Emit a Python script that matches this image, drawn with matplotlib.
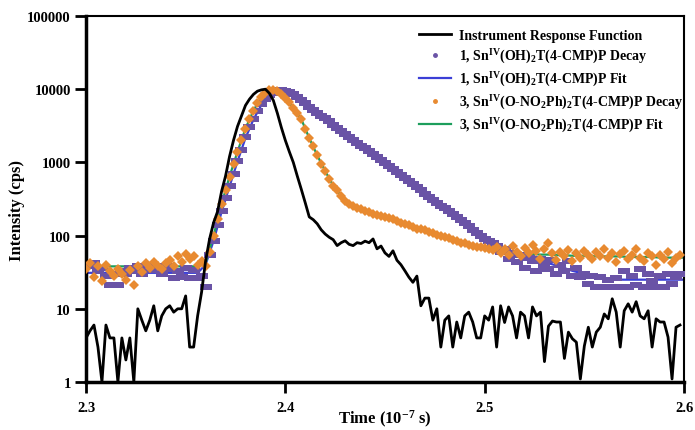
import numpy as np #numeric arrays
import matplotlib
matplotlib.use("Agg")
import matplotlib.pyplot as plt #plots
from matplotlib.lines import Line2D
from matplotlib.ticker import FixedLocator, FixedFormatter, NullLocator

#1) data (time in 1e-7 s, intensity in cps)
t0, dt = 2.300, 0.002 #decay / irf channel grid
t0_fit, dt_fit = 2.300, 0.004 #fit grid

irf = [4, 5, 6, 3, 1, 6, 4, 4, 1, 4, 2, 4, 1, 10, 7, 5, 7, 11, 5, 8,
       10, 11, 9, 10, 10, 15, 3, 3, 8, 17, 45, 90, 150, 213, 400, 650, 1200, 2000, 3100, 4300,
       6000, 7300, 8500, 9400, 9800, 10000, 8800, 7000, 4700, 3000, 2000, 1400, 1000, 650, 430, 280, 180, 165, 145, 120,
       105, 95, 88, 73, 80, 85, 76, 73, 80, 78, 84, 80, 90, 66, 72, 58, 52, 62, 46, 40,
       33, 27, 23, 28, 11, 14, 14, 7, 10, 3, 7, 8, 3, 6.6, 4, 8, 9, 6.6, 4, 4,
       8, 7, 10.6, 3, 11, 6.5, 10.6, 8, 4, 9, 8, 4, 10.6, 8, 9, 1.9, 5.8, 6.8, 6.6, 6.6,
       2.1, 4.8, 3.9, 3.5, 1.1, 3.1, 5.6, 3, 4.8, 5.6, 8.5, 7.3, 13.7, 9, 3, 9.4, 11.7, 9, 12.5, 8,
       7.3, 9.4, 3, 7.3, 6.6, 6.6, 4.1, 1.1, 5.6, 6]

decay_1 = [40, 38, 42, 33, 36, 28, 21, 30, 21, 33, 30, 36, 33, 38, 30, 36, 40, 34, 38, 30,
           35, 38, 26, 33, 27, 36, 26, 34, 26, 28, 20, 55, 85, 140, 220, 330, 480, 700, 1050, 1500,
           2200, 3000, 3900, 5000, 6200, 7300, 8300, 9000, 9400, 9600, 9500, 9200, 8600, 7800, 7100, 6450, 5750, 5250, 4800, 4350,
           3980, 3630, 3240, 2950, 2690, 2450, 2240, 2040, 1860, 1700, 1550, 1410, 1290, 1170, 1070, 980, 890, 810, 740, 680,
           620, 560, 500, 457, 417, 370, 340, 310, 280, 257, 235, 214, 195, 178, 162, 148, 137, 120, 110, 100,
           90, 85, 78, 72, 60, 66, 48, 58, 44, 55, 36, 50, 45, 33, 48, 40, 35, 46, 30, 40,
           33, 45, 28, 36, 27, 30, 22, 28, 20, 27, 20, 25, 20, 26, 20, 33, 20, 28, 21, 35,
           20, 30, 24, 20, 28, 20, 30, 22, 27, 30]

decay_3 = [35, 42, 27, 38, 24, 40, 33, 28, 35, 30, 25, 34, 21, 38, 32, 42, 36, 44, 38, 35,
           42, 46, 38, 52, 44, 56, 48, 53, 40, 45, 38, 60, 100, 170, 270, 420, 640, 960, 1400, 2050,
           2900, 3900, 5100, 6500, 7900, 9000, 9700, 9900, 9500, 8700, 7700, 6600, 5500, 4800, 3900, 2900, 2150, 1650, 1250, 960,
           760, 600, 480, 420, 350, 300, 270, 250, 238, 228, 218, 208, 200, 192, 185, 178, 172, 166, 158, 150,
           145, 140, 132, 125, 122, 118, 112, 108, 103, 100, 96, 92, 88, 85, 80, 78, 75, 73, 70, 69,
           67, 66, 63, 70, 58, 65, 55, 72, 60, 52, 68, 57, 75, 62, 48, 66, 80, 58, 46, 60,
           52, 64, 45, 58, 50, 62, 55, 48, 60, 53, 65, 50, 58, 44, 56, 62, 48, 55, 66, 50,
           45, 58, 52, 40, 55, 48, 60, 42, 50, 55]

fit_1 = [31, 31, 31, 31, 31, 31, 31, 31, 31, 31, 31, 31, 31, 31, 31, 40, 85, 210, 470, 1030,
         2150, 3850, 6100, 8200, 9350, 9500, 8600, 7100, 5750, 4800, 3980, 3240, 2690, 2240, 1860, 1550, 1290, 1070, 890, 740,
         620, 500, 417, 340, 280, 233, 190, 158, 130, 108, 90, 76, 66, 60, 55, 50, 47, 44, 42, 39,
         36, 33, 31, 29, 27, 26, 25, 25, 25, 25, 25, 25, 25, 25, 25, 25]

fit_3 = [38, 38, 38, 38, 38, 38, 38, 38, 38, 38, 38, 38, 38, 38, 38, 42, 100, 270, 640, 1400,
         2900, 5100, 7900, 9700, 9500, 7700, 5500, 3900, 2150, 1250, 760, 480, 350, 270, 238, 218, 200, 185, 172, 158,
         145, 132, 122, 112, 103, 96, 88, 80, 75, 70, 67, 64, 62, 60, 58, 57, 56, 55, 55, 54,
         54, 53, 53, 53, 52, 52, 52, 52, 51, 51, 51, 51, 50, 50, 50, 50]

labels = ["Instrument Response Function",
          r"1, Sn$^{\mathrm{IV}}$(OH)$_{2}$T(4-CMP)P Decay",
          r"1, Sn$^{\mathrm{IV}}$(OH)$_{2}$T(4-CMP)P Fit",
          r"3, Sn$^{\mathrm{IV}}$(O-NO$_{2}$Ph)$_{2}$T(4-CMP)P Decay",
          r"3, Sn$^{\mathrm{IV}}$(O-NO$_{2}$Ph)$_{2}$T(4-CMP)P Fit"]

y_ticks = [1, 10, 100, 1000, 10000, 100000]
x_ticks = [2.3, 2.4, 2.5, 2.6]

#2) time axes
t = t0 + dt * np.arange(len(irf))
t_fit = t0_fit + dt_fit * np.arange(len(fit_1))

#3) style
plt.rcParams['font.family'] = 'Liberation Serif'
plt.rcParams['font.weight'] = 'bold'
plt.rcParams['mathtext.fontset'] = 'custom'
plt.rcParams['mathtext.rm'] = 'Liberation Serif:bold'
plt.rcParams['mathtext.it'] = 'Liberation Serif:bold:italic'
plt.rcParams['mathtext.bf'] = 'Liberation Serif:bold'

c_irf, c_d1, c_f1, c_d3, c_f3 = 'black', '#6a53a6', '#3b3fd6', '#e88a30', '#1d9e5c'

fig = plt.figure(figsize=(6.95, 4.31), dpi=100)
ax = fig.add_axes([86/695, 48/431, 598/695, 366/431])

#4) curves
dash = [(-1, -0.55), (1, -0.55), (1, 0.55), (-1, 0.55)] #wide flat marker for decay 1
ax.plot(t, irf, color=c_irf, lw=2.0, zorder=5)
ax.plot(t_fit, fit_1, color=c_f1, lw=1.6, zorder=2)
ax.plot(t_fit, fit_3, color=c_f3, lw=1.6, zorder=2)
ax.plot(t, decay_1, ls='none', marker=dash, ms=9, mew=0, color=c_d1, zorder=3)
ax.plot(t, decay_3, ls='none', marker='D', ms=5.5, mew=0, color=c_d3, zorder=4)

#5) axes
ax.set_yscale('log')
ax.set_xlim(2.3, 2.6)
ax.set_ylim(1, 100000)
ax.yaxis.set_major_locator(FixedLocator(y_ticks))
ax.yaxis.set_major_formatter(FixedFormatter([str(v) for v in y_ticks]))
ax.yaxis.set_minor_locator(NullLocator())
ax.set_xticks(x_ticks)
ax.set_xticklabels([str(v) for v in x_ticks])
ax.tick_params(labelsize=10.5, width=2, length=8, direction='out', pad=3)
ax.tick_params(axis='x', pad=6)
for s in ['left', 'bottom']:
    ax.spines[s].set_linewidth(2.5)
for s in ['top', 'right']:
    ax.spines[s].set_linewidth(1.5)

ax.set_xlabel(r"Time (10$^{-7}$ s)", fontsize=12, fontweight='bold')
ax.xaxis.set_label_coords(0.5, -0.07)
ax.set_ylabel("Intensity (cps)", fontsize=12, fontweight='bold')
ax.yaxis.set_label_coords(-0.102, 0.47)

#6) legend (small round markers for the decays, like the original)
handles = [Line2D([], [], color=c_irf, lw=2.0),
           Line2D([], [], ls='none', marker='o', ms=2.5, color=c_d1),
           Line2D([], [], color=c_f1, lw=1.6),
           Line2D([], [], ls='none', marker='o', ms=2.5, color=c_d3),
           Line2D([], [], color=c_f3, lw=1.6)]
ax.legend(handles, labels, loc='upper left',
          bbox_to_anchor=(0.557, 0.965), frameon=False, fontsize=10,
          borderpad=0, borderaxespad=0, handlelength=2.3, handletextpad=0.6,
          labelspacing=0.35)

fig.savefig("out.png", dpi=100)
